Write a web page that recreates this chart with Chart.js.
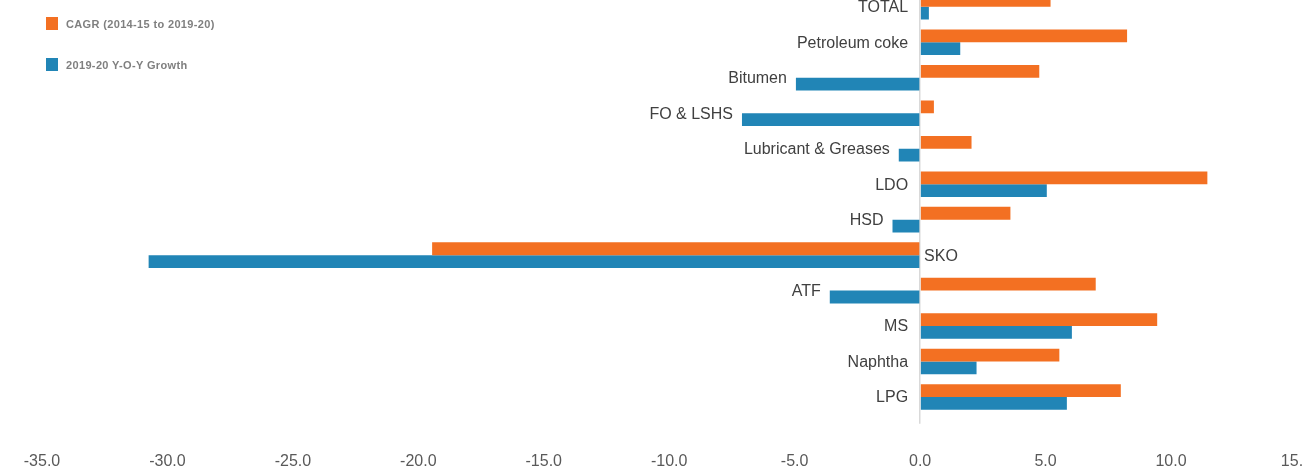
<!DOCTYPE html>
<html>
<head>
<meta charset="utf-8">
<script src="https://cdn.jsdelivr.net/npm/chart.js@4.4.1/dist/chart.umd.min.js"></script>
<style>
  html, body { margin: 0; padding: 0; background: #fff; overflow: hidden; }
  #wrap { position: relative; width: 1312px; height: 482px; margin-top: -11px; }
  #legend { position: absolute; left: 46px; top: 28px; font: bold 11px "Liberation Sans", Arial, sans-serif; letter-spacing: 0.35px; color: #7f7f7f; }
  #legend .item { display: flex; align-items: center; height: 13px; margin-bottom: 28px; }
  #legend .box { width: 12px; height: 13px; margin-right: 8px; }
</style>
</head>
<body>
<div id="wrap">
  <canvas id="growth"></canvas>
  <div id="legend"></div>
</div>
<script>
const products = ['TOTAL', 'Petroleum coke', 'Bitumen', 'FO & LSHS', 'Lubricant & Greases', 'LDO', 'HSD', 'SKO', 'ATF', 'MS', 'Naphtha', 'LPG'];
const cagr = [5.2, 8.25, 4.75, 0.55, 2.05, 11.45, 3.6, -19.45, 7.0, 9.45, 5.55, 8.0];
const yoyGrowth = [0.35, 1.6, -4.95, -7.1, -0.85, 5.05, -1.1, -30.75, -3.6, 6.05, 2.25, 5.85];
const xTicks = [-35, -30, -25, -20, -15, -10, -5, 0, 5, 10, 15];

const ORANGE = '#f37022';
const BLUE = '#2185b6';
const TICK_PAD = 28;

// category names sit next to the zero line, pushed left of any negative bar
const productLabels = {
  id: 'productLabels',
  afterDatasetsDraw(chart) {
    const { ctx, scales: { x, y } } = chart;
    const zero = x.getPixelForValue(0);
    ctx.save();
    ctx.font = '16px "Liberation Sans", Arial, sans-serif';
    ctx.fillStyle = '#404040';
    ctx.textBaseline = 'middle';
    products.forEach((name, i) => {
      const cy = y.getPixelForValue(i) + 1;
      const low = Math.min(0, cagr[i], yoyGrowth[i]);
      if (low < -15) {
        ctx.textAlign = 'left';
        ctx.fillText(name, zero + 4, cy);
      } else {
        ctx.textAlign = 'right';
        ctx.fillText(name, Math.min(zero - 12, x.getPixelForValue(low) - 9), cy);
      }
    });
    ctx.restore();
  }
};

const chart = new Chart(document.getElementById('growth'), {
  type: 'bar',
  data: {
    labels: products,
    datasets: [{
      label: 'CAGR (2014-15 to 2019-20)',
      data: cagr,
      backgroundColor: ORANGE
    }, {
      label: '2019-20 Y-O-Y Growth',
      data: yoyGrowth,
      backgroundColor: BLUE
    }]
  },
  options: {
    indexAxis: 'y',
    responsive: true,
    maintainAspectRatio: false,
    animation: false,
    layout: { padding: { left: 42, right: 0, top: 0, bottom: 0 } },
    datasets: { bar: { categoryPercentage: 0.72, barPercentage: 1.0 } },
    scales: {
      x: {
        min: -35,
        max: 15,
        afterBuildTicks: (scale) => { scale.ticks = xTicks.map(v => ({ value: v })); },
        // tick padding should only push labels down, not squeeze the sides
        afterFit: (scale) => {
          scale.paddingLeft = Math.max(0, scale.paddingLeft - TICK_PAD);
          scale.paddingRight = Math.max(0, scale.paddingRight - TICK_PAD);
          scale.height = 9 + TICK_PAD + 19.2;
        },
        ticks: {
          color: '#595959',
          font: { family: '"Liberation Sans", Arial, sans-serif', size: 16 },
          padding: TICK_PAD,
          maxRotation: 0,
          callback: (v) => Number(v).toFixed(1)
        },
        grid: {
          color: (c) => (c.tick && c.tick.value === 0 ? '#d9d9d9' : 'rgba(0,0,0,0)'),
          tickLength: 9,
          lineWidth: 1.5
        },
        border: { display: false }
      },
      y: { display: false }
    },
    plugins: {
      legend: { display: false },
      tooltip: { enabled: false }
    }
  },
  plugins: [productLabels]
});

const legend = document.getElementById('legend');
chart.data.datasets.forEach(ds => {
  const item = document.createElement('div');
  item.className = 'item';
  const box = document.createElement('span');
  box.className = 'box';
  box.style.background = ds.backgroundColor;
  const text = document.createElement('span');
  text.textContent = ds.label;
  item.appendChild(box);
  item.appendChild(text);
  legend.appendChild(item);
});
</script>
</body>
</html>
